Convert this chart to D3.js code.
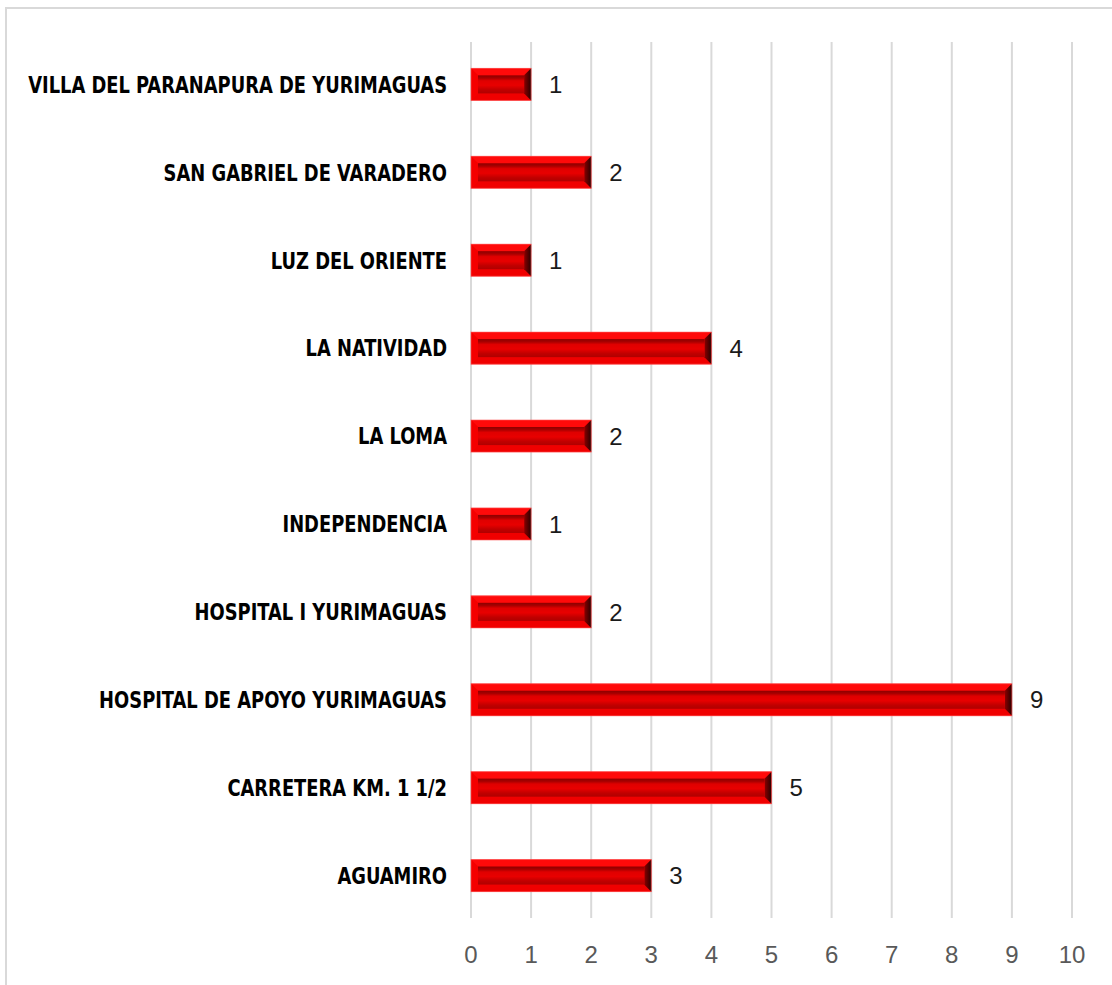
<!DOCTYPE html>
<html>
<head>
<meta charset="utf-8">
<script src="https://cdn.jsdelivr.net/npm/d3@7"></script>
<style>
  html, body { margin: 0; padding: 0; background: #fff; }
  svg { display: block; }
</style>
</head>
<body>
<svg id="chart" width="1112" height="985"></svg>
<script>
// data, listed bottom to top as in the source sheet
const categories = [
  "AGUAMIRO",
  "CARRETERA KM. 1 1/2",
  "HOSPITAL DE APOYO YURIMAGUAS",
  "HOSPITAL I YURIMAGUAS",
  "INDEPENDENCIA",
  "LA LOMA",
  "LA NATIVIDAD",
  "LUZ DEL ORIENTE",
  "SAN GABRIEL DE VARADERO",
  "VILLA DEL PARANAPURA DE YURIMAGUAS"
];
const values = [3, 5, 9, 2, 1, 2, 4, 1, 2, 1];
const xTicks = [0, 1, 2, 3, 4, 5, 6, 7, 8, 9, 10];

const svg = d3.select("#chart");
const labelFont = "'Liberation Sans Narrow', 'DejaVu Sans Condensed', 'Liberation Sans', sans-serif";
const numFont = "'Liberation Sans Narrow', 'Liberation Sans', sans-serif";

// outer frame
svg.append("rect")
  .attr("x", 6).attr("y", 8)
  .attr("width", 1200).attr("height", 1100)
  .attr("fill", "none")
  .attr("stroke", "#d9d9d9")
  .attr("stroke-width", 2);

const x = d3.scaleLinear().domain([0, 10]).range([471, 1072]);
const y = d3.scaleBand()
  .domain(categories.slice().reverse())
  .range([42, 918])
  .paddingInner(0.635)
  .paddingOuter(0.3);

const data = categories.map((c, i) => ({ name: c, value: values[i] }));

// gradients for the bevelled bars
const defs = svg.append("defs");
const face = defs.append("linearGradient")
  .attr("id", "face").attr("x1", 0).attr("y1", 0).attr("x2", 0).attr("y2", 1);
[[0, "#8c0000"], [0.15, "#a80000"], [0.3, "#e00000"], [0.55, "#e80000"], [0.8, "#c00000"], [1, "#b00000"]]
  .forEach(([o, c]) => face.append("stop").attr("offset", o).attr("stop-color", c));
const rightEnd = defs.append("linearGradient")
  .attr("id", "rightEnd").attr("x1", 0).attr("y1", 0).attr("x2", 1).attr("y2", 0);
[[0, "#8a0000"], [1, "#2a0000"]]
  .forEach(([o, c]) => rightEnd.append("stop").attr("offset", o).attr("stop-color", c));

// gridlines
svg.append("g")
  .selectAll("line")
  .data(xTicks)
  .join("line")
  .attr("x1", d => x(d)).attr("x2", d => x(d))
  .attr("y1", 42).attr("y2", 918)
  .attr("stroke", "#d9d9d9")
  .attr("stroke-width", 2);

// x axis tick labels
svg.append("g")
  .selectAll("text")
  .data(xTicks)
  .join("text")
  .attr("x", d => x(d))
  .attr("y", 963)
  .attr("text-anchor", "middle")
  .attr("font-family", numFont)
  .attr("font-size", 24)
  .attr("fill", "#595959")
  .text(d => d);

// bars
const b = 7;
const bars = svg.append("g")
  .selectAll("g")
  .data(data)
  .join("g")
  .attr("transform", d => `translate(${x(0)},${y(d.name)})`);

bars.each(function (d) {
  const g = d3.select(this);
  const w = x(d.value) - x(0);
  const h = y.bandwidth();
  const poly = pts => pts.map(p => p.join(",")).join(" ");

  g.append("rect").attr("width", w).attr("height", h).attr("fill", "#ff0000");
  g.append("polygon").attr("points", poly([[0, 0], [w, 0], [w - b, b], [b, b]])).attr("fill", "#ff0a0a");
  g.append("polygon").attr("points", poly([[0, h], [w, h], [w - b, h - b], [b, h - b]])).attr("fill", "#f00000");
  g.append("polygon").attr("points", poly([[0, 0], [b, b], [b, h - b], [0, h]])).attr("fill", "#f40000");
  g.append("polygon").attr("points", poly([[w, 0], [w - b, b], [w - b, h - b], [w, h]])).attr("fill", "url(#rightEnd)");
  g.append("rect")
    .attr("x", b).attr("y", b)
    .attr("width", w - 2 * b).attr("height", h - 2 * b)
    .attr("fill", "url(#face)");
  g.append("rect")
    .attr("width", w).attr("height", h)
    .attr("fill", "none")
    .attr("stroke", "#ff5c5c")
    .attr("stroke-opacity", 0.6)
    .attr("stroke-width", 1);
});

// value labels
svg.append("g")
  .selectAll("text")
  .data(data)
  .join("text")
  .attr("x", d => x(d.value) + 18)
  .attr("y", d => y(d.name) + y.bandwidth() / 2)
  .attr("dy", "0.36em")
  .attr("font-family", numFont)
  .attr("font-size", 24)
  .attr("fill", "#1a1a1a")
  .text(d => d.value);

// category labels, squeezed to the narrow look of the original
const labels = svg.append("g");
const labelText = labels.selectAll("text")
  .data(data)
  .join("text")
  .attr("x", 0)
  .attr("y", d => y(d.name) + y.bandwidth() / 2)
  .attr("dy", "0.36em")
  .attr("text-anchor", "end")
  .attr("font-family", labelFont)
  .attr("font-weight", "bold")
  .attr("font-size", 23)
  .attr("fill", "#000")
  .text(d => d.name);

let maxW = 0;
labelText.each(function () { maxW = Math.max(maxW, this.getComputedTextLength()); });
const sx = maxW > 0 ? 419 / maxW : 1;
labels.attr("transform", `translate(447,0) scale(${sx},1)`);
</script>
</body>
</html>
